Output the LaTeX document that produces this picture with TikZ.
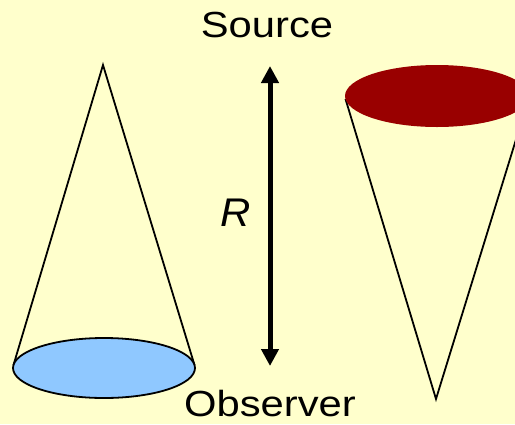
\documentclass[tikz,border=0pt]{standalone}
\usepackage{fontspec}
\newfontfamily\arialish{Liberation Sans}
\usetikzlibrary{arrows.meta}
\definecolor{bgyellow}{HTML}{FFFFCC}
\definecolor{obsblue}{HTML}{8FC8FF}
\definecolor{srcred}{HTML}{990000}
\tikzset{
  coneline/.style={line width=1.8pt, black},
  label/.style={inner sep=0pt, font=\arialish\fontsize{36.3}{40}\selectfont},
  rlabel/.style={inner sep=0pt, font=\arialish\itshape\fontsize{40}{44}\selectfont},
  rarrow/.style={line width=5pt, {Triangle[width=17pt,length=17pt]}-{Triangle[width=17pt,length=17pt]}}
}
\begin{document}
\begin{tikzpicture}[x=1pt,y=-1pt]
\useasboundingbox (0,0) rectangle (515,424);
\clip (0,0) rectangle (515,424);
\fill[bgyellow] (0,0) rectangle (515,424);
% left cone (observer)
\coordinate (lapex) at (103,65);
\coordinate (lleft) at (13.5,365);
\coordinate (lright) at (194.5,365);
\draw[coneline] (lleft) -- (lapex) -- (lright);
\draw[coneline, fill=obsblue] (104,368) ellipse [x radius=91pt, y radius=30pt];
% right cone (source)
\coordinate (rapex) at (436,399);
\coordinate (rleft) at (345.5,99);
\coordinate (rright) at (528.5,99);
\draw[coneline] (rleft) -- (rapex) -- (rright);
\fill[srcred] (437,96) ellipse [x radius=92pt, y radius=31pt];
% arrow
\coordinate (atop) at (270,66);
\coordinate (abot) at (270,366);
\draw[rarrow] (atop) -- (abot);
% labels
\node[label, anchor=base] (src) at (267,37) {\scalebox{1.15}[1]{Source}};
\node[label, anchor=base] (obs) at (270,416.5) {\scalebox{1.15}[1]{Observer}};
\node[rlabel, anchor=base] (r) at (236,226) {\scalebox{1.05}[1]{R}};
\end{tikzpicture}
\end{document}
